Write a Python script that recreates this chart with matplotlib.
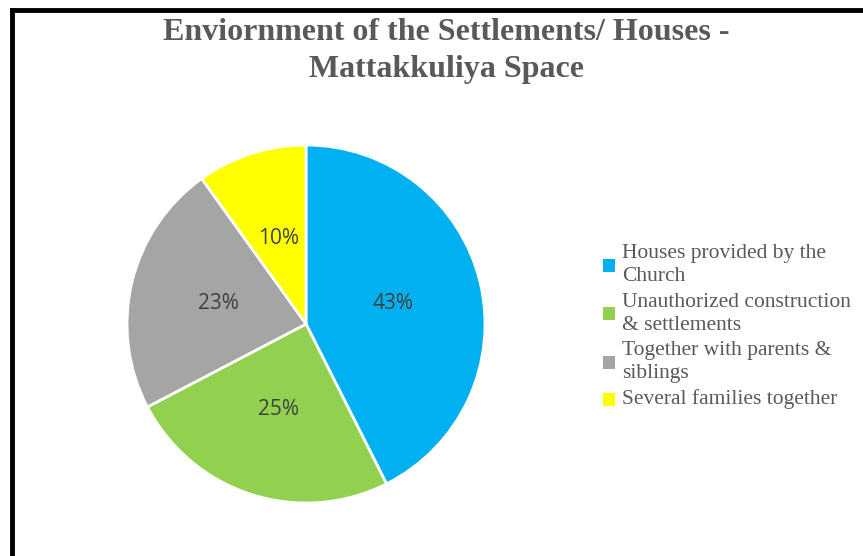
import matplotlib
matplotlib.use("Agg")
import matplotlib.pyplot as plt
from matplotlib.lines import Line2D
from matplotlib.patches import Patch
import numpy as np

# Survey shares of housing situation
categories = [
    "Houses provided by the\nChurch",
    "Unauthorized construction\n& settlements",
    "Together with parents &\nsiblings",
    "Several families together",
]
shares = [43, 25, 23, 10]
colors = ["#00B0F0", "#92D050", "#A5A5A5", "#FFFF00"]
title_lines = ["Enviornment of the Settlements/ Houses -", "Mattakkuliya Space"]

W, H = 863, 556
fig = plt.figure(figsize=(W / 100, H / 100), dpi=100)
fig.patch.set_facecolor("white")

# Frame lines along the top and left edges
fig.add_artist(Line2D([12 / W, 12 / W], [0, 1 - 10 / H], color="black", lw=3.5,
                      transform=fig.transFigure, solid_capstyle="projecting"))
fig.add_artist(Line2D([12 / W, 1], [1 - 10 / H, 1 - 10 / H], color="black", lw=3.5,
                      transform=fig.transFigure, solid_capstyle="projecting"))

# Pie axes
cx, cy, r = 306, 324, 179
ax = fig.add_axes([(cx - r) / W, (H - cy - r) / H, 2 * r / W, 2 * r / H])
wedges, _ = ax.pie(shares, colors=colors, startangle=90, counterclock=False,
                   radius=1.0, wedgeprops=dict(edgecolor="white", linewidth=2))
ax.set_xlim(-1.0, 1.0)
ax.set_ylim(-1.0, 1.0)
ax.set_aspect("equal")
ax.axis("off")

# Value labels placed at half radius along each wedge's mid-angle
for w, v in zip(wedges, shares):
    ang = np.deg2rad((w.theta1 + w.theta2) / 2)
    ax.text(0.5 * np.cos(ang), 0.5 * np.sin(ang), f"{v}%", ha="center", va="center",
            fontsize=15, color="#404040", family=["Open Sans", "DejaVu Sans"])

# Title
for y, line in zip([33, 70], title_lines):
    fig.text(446 / W, 1 - y / H, line, ha="center", va="center",
             fontsize=23, fontweight="bold", color="#595959", family="Liberation Serif")

# Legend
handles = [Patch(facecolor=c, edgecolor="none") for c in colors]
leg = fig.legend(handles, categories, loc="upper left",
                 bbox_to_anchor=(603 / W, 1 - 244 / H), frameon=False,
                 prop=dict(family="Liberation Serif", size=15.5),
                 labelcolor="#595959", handlelength=0.55, handleheight=0.55,
                 handletextpad=0.35, labelspacing=0.28, borderpad=0, borderaxespad=0)
for t in leg.get_texts():
    t.set_linespacing(1.32)
# Centre each swatch vertically against its (possibly two-line) label
for col in leg._legend_handle_box.get_children():
    for row in col.get_children():
        row.align = "center"

fig.savefig("out.png", dpi=100, facecolor="white")
